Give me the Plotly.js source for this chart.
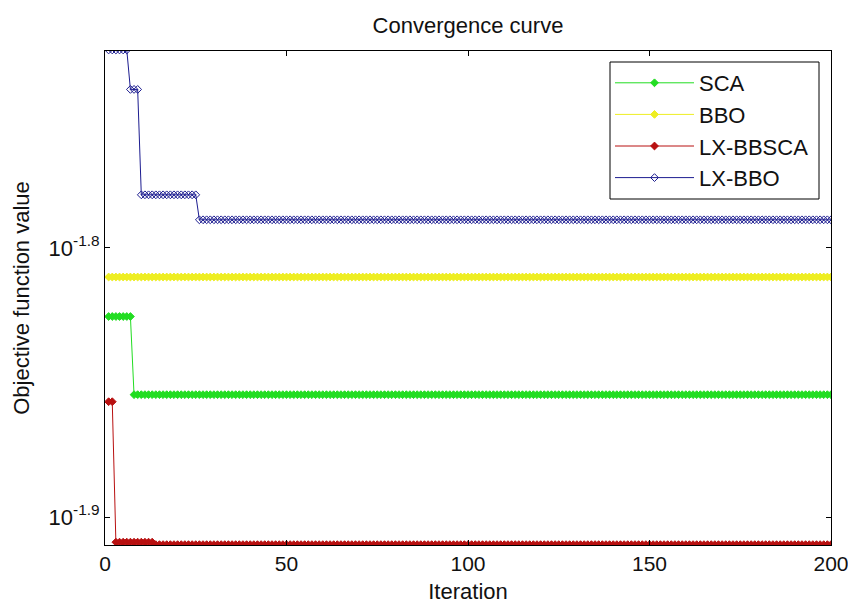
<!DOCTYPE html>
<html><head><meta charset="utf-8">
<script src="https://cdn.plot.ly/plotly-3.0.1.min.js"></script>
<style>html,body{margin:0;padding:0;background:#fff}</style>
</head><body><div id="chart" style="width:848px;height:604px"></div>
<script>
// Step-wise convergence curves: value of each level and the last iteration it holds
const seriesNames = ['SCA', 'BBO', 'LX-BBSCA', 'LX-BBO'];
const scaLevels = [0.014946, 0.013979];
const scaLastIter = [7, 200];
const bboLevels = [0.015460];
const bboLastIter = [200];
const lxbbscaLevels = [0.013895, 0.012321, 0.012295];
const lxbbscaLastIter = [2, 13, 200];
const lxbboLevels = [0.018777, 0.018153, 0.016587, 0.016236];
const lxbboLastIter = [6, 9, 25, 200];
const xTickVals = [0, 50, 100, 150, 200];
const yTickExp = [-1.9, -1.8];
const yTickText = ['10<sup>-1.9</sup>', '10<sup>-1.8</sup>'];
const seriesColors = ['#22dd22', '#eeee22', '#b81010', '#1c1c90'];

function expand(levels, lastIter) {
  const x = [], y = [];
  let it = 1;
  for (let k = 0; k < levels.length; k++) {
    for (; it <= lastIter[k]; it++) { x.push(it); y.push(levels[k]); }
  }
  return {x, y};
}

const data = [
  [scaLevels, scaLastIter, 'diamond'],
  [bboLevels, bboLastIter, 'diamond'],
  [lxbbscaLevels, lxbbscaLastIter, 'diamond'],
  [lxbboLevels, lxbboLastIter, 'diamond-open']
].map((s, i) => {
  const d = expand(s[0], s[1]);
  return {
    type: 'scatter', mode: 'lines+markers', name: seriesNames[i],
    x: d.x, y: d.y,
    line: {color: seriesColors[i], width: 1},
    marker: {color: seriesColors[i], size: 6, symbol: s[2], line: {color: seriesColors[i], width: 1}}
  };
});

const font = 'Liberation Sans, Arial, sans-serif';
const txt = '#111';
// legend frame in pixels (plot area: x 105..831, y 51..545)
const W = 848, H = 604, L = 105, R = 17, T = 51, B = 59;
const pw = W - L - R, ph = H - T - B;
const px = v => (v - L) / pw, py = v => (H - B - v) / ph;

const layout = {
  width: W, height: H,
  margin: {l: L, r: R, t: T, b: B},
  paper_bgcolor: '#fff', plot_bgcolor: '#fff',
  font: {family: font, size: 22, color: txt},
  title: {text: 'Convergence curve', font: {family: font, size: 22, color: txt},
          x: 0.5, xref: 'paper', y: 1 - 25/604, yref: 'container', yanchor: 'middle'},
  xaxis: {
    range: [0, 200], tickvals: xTickVals, ticks: 'inside', ticklen: 5, tickcolor: '#000',
    showline: true, linecolor: '#000', linewidth: 1, mirror: 'ticks', showgrid: false, zeroline: false,
    tickfont: {family: font, size: 21, color: txt}, ticklabeloverflow: 'allow',
    title: {text: 'Iteration', font: {family: font, size: 22, color: txt}, standoff: 10}
  },
  yaxis: {
    type: 'log', range: [-1.91041, -1.72677],
    tickvals: yTickExp.map(e => Math.pow(10, e)), ticktext: yTickText,
    ticks: 'inside', ticklen: 5, tickcolor: '#000',
    showline: true, linecolor: '#000', linewidth: 1, mirror: 'ticks', showgrid: false, zeroline: false,
    tickfont: {family: font, size: 22, color: txt},
    title: {text: 'Objective function value', font: {family: font, size: 22, color: txt}, standoff: 12}
  },
  shapes: [{type: 'rect', xref: 'paper', yref: 'paper', layer: 'below',
            x0: px(610), x1: px(819), y0: py(199), y1: py(62),
            line: {color: '#000', width: 1}, fillcolor: '#fff'}],
  showlegend: true,
  legend: {x: px(610), y: py(62), xanchor: 'left', yanchor: 'top', bgcolor: 'rgba(0,0,0,0)',
           borderwidth: 0, font: {family: font, size: 22, color: txt},
           itemwidth: 79, tracegroupgap: 0}
};

Plotly.newPlot('chart', data, layout, {displayModeBar: false, staticPlot: true});
</script>
</body></html>
